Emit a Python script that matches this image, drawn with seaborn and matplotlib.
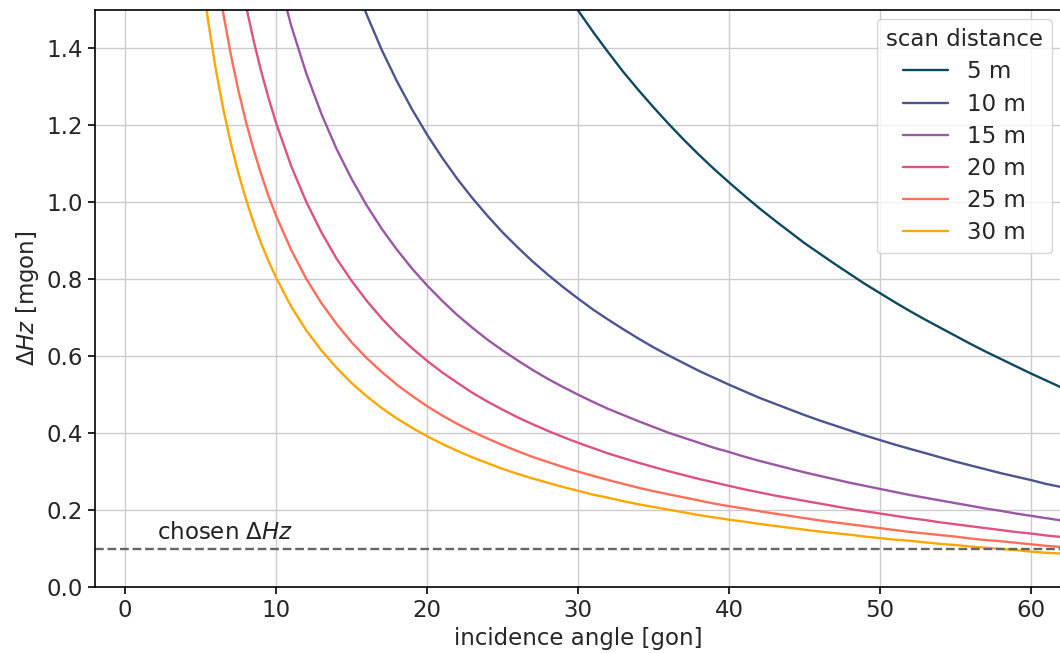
import pandas as pd
import matplotlib
matplotlib.use("Agg")
import matplotlib.pyplot as plt
import seaborn as sns

# incidence angles [gon]; each series below ends at the last angle
angles = [5, 5.5, 6, 6.5, 7, 7.5, 8, 8.5, 9, 9.5,
          10, 11, 12, 13, 14, 15, 16, 17, 18, 19, 20, 21, 22, 23, 24, 25, 26, 27,
          28, 29, 30, 31, 32, 33, 34, 35, 36, 37, 38, 39, 40, 41, 42, 43, 44, 45,
          46, 47, 48, 49, 50, 51, 52, 53, 54, 55, 56, 57, 58, 59, 60, 61, 62]

# ΔHz [mgon] per scan distance
dhz_5m = [1.766, 1.692, 1.624, 1.560, 1.499, 1.443, 1.390, 1.339, 1.292, 1.247,
          1.204, 1.163, 1.124, 1.087, 1.052, 1.018, 0.985, 0.954, 0.924, 0.894,
          0.867, 0.840, 0.814, 0.788, 0.764, 0.740, 0.717, 0.695, 0.674, 0.653,
          0.632, 0.612, 0.593, 0.574, 0.555, 0.537, 0.519]
dhz_10m = [1.709, 1.591, 1.488, 1.396, 1.315, 1.242, 1.176, 1.116, 1.061, 1.011,
           0.965, 0.922, 0.883, 0.846, 0.812, 0.780, 0.750, 0.721, 0.695, 0.670,
           0.646, 0.623, 0.602, 0.582, 0.562, 0.544, 0.526, 0.509, 0.492, 0.477,
           0.462, 0.447, 0.433, 0.420, 0.407, 0.394, 0.382, 0.370, 0.359, 0.348,
           0.337, 0.326, 0.316, 0.306, 0.296, 0.287, 0.278, 0.268, 0.260]
dhz_15m = [1.694, 1.608, 1.459, 1.335, 1.230, 1.139, 1.061, 0.992, 0.931, 0.877,
           0.828, 0.784, 0.744, 0.707, 0.674, 0.643, 0.615, 0.589, 0.564, 0.541,
           0.520, 0.500, 0.481, 0.463, 0.447, 0.431, 0.416, 0.401, 0.388, 0.375,
           0.362, 0.351, 0.339, 0.328, 0.318, 0.308, 0.298, 0.289, 0.280, 0.271,
           0.263, 0.255, 0.247, 0.239, 0.232, 0.225, 0.218, 0.211, 0.204, 0.198,
           0.191, 0.185, 0.179, 0.173]
dhz_20m = [1.614, 1.512, 1.422, 1.342, 1.271, 1.206, 1.094, 1.001, 0.922, 0.854,
           0.796, 0.744, 0.698, 0.657, 0.621, 0.588, 0.558, 0.531, 0.505, 0.482,
           0.461, 0.441, 0.423, 0.406, 0.390, 0.375, 0.361, 0.347, 0.335, 0.323,
           0.312, 0.301, 0.291, 0.281, 0.272, 0.263, 0.254, 0.246, 0.238, 0.231,
           0.224, 0.217, 0.210, 0.203, 0.197, 0.191, 0.185, 0.179, 0.174, 0.168,
           0.163, 0.158, 0.153, 0.148, 0.143, 0.139, 0.134, 0.130]
dhz_25m = [1.616, 1.491, 1.384, 1.291, 1.210, 1.138, 1.074, 1.016, 0.965, 0.876,
           0.801, 0.738, 0.684, 0.636, 0.595, 0.559, 0.526, 0.497, 0.470, 0.446,
           0.424, 0.404, 0.386, 0.369, 0.353, 0.338, 0.325, 0.312, 0.300, 0.289,
           0.278, 0.268, 0.258, 0.249, 0.241, 0.233, 0.225, 0.217, 0.210, 0.204,
           0.197, 0.191, 0.185, 0.179, 0.173, 0.168, 0.163, 0.158, 0.153, 0.148,
           0.143, 0.139, 0.135, 0.131, 0.126, 0.122, 0.119, 0.115, 0.111, 0.107,
           0.104]
dhz_30m = [1.617, 1.470, 1.347, 1.242, 1.153, 1.076, 1.008, 0.948, 0.894, 0.847,
           0.804, 0.729, 0.667, 0.615, 0.570, 0.530, 0.496, 0.465, 0.438, 0.414,
           0.392, 0.372, 0.354, 0.337, 0.322, 0.307, 0.294, 0.282, 0.271, 0.260,
           0.250, 0.240, 0.232, 0.223, 0.215, 0.208, 0.201, 0.194, 0.187, 0.181,
           0.175, 0.170, 0.164, 0.159, 0.154, 0.149, 0.144, 0.140, 0.136, 0.131,
           0.127, 0.123, 0.120, 0.116, 0.112, 0.109, 0.105, 0.102, 0.099, 0.096,
           0.092, 0.089, 0.087]

distances = ["5 m", "10 m", "15 m", "20 m", "25 m", "30 m"]
series = [dhz_5m, dhz_10m, dhz_15m, dhz_20m, dhz_25m, dhz_30m]
colors = ["#0d4a5f", "#4c5590", "#9a57a3", "#dd5185", "#ff6e5a", "#ffa600"]
chosen_dhz = 0.1

rows = []
for d, vals in zip(distances, series):
    for a, v in zip(angles[-len(vals):], vals):
        rows.append({"angle": a, "dhz": v, "scan distance": d})
df = pd.DataFrame(rows)

FS = 16.5
sns.set_style("ticks")
plt.rcParams["font.family"] = ["DejaVu Sans"]
plt.rcParams["font.size"] = FS

fig = plt.figure(figsize=(10.6, 6.53), dpi=100)
ax = fig.add_axes([0.0896, 0.1011, 0.9114, 0.8836])

sns.lineplot(data=df, x="angle", y="dhz", hue="scan distance",
             hue_order=distances, palette=colors, linewidth=1.7, ax=ax)

ax.axhline(chosen_dhz, color="#666666", linestyle="--", linewidth=1.7,
           dashes=(3.7, 1.6))
ax.text(2.1, 0.125, r"chosen $\Delta Hz$", fontsize=FS, color="#222222")

ax.set_xlim(-2, 62)
ax.set_ylim(0, 1.5)
ax.set_xticks([0, 10, 20, 30, 40, 50, 60])
ax.set_yticks([0.0, 0.2, 0.4, 0.6, 0.8, 1.0, 1.2, 1.4])
ax.grid(True, color="#cccccc", linewidth=1.0)
ax.set_axisbelow(True)
ax.tick_params(labelsize=FS, length=5, width=1.2, color="black")
for s in ax.spines.values():
    s.set_color("black")
    s.set_linewidth(1.2)
ax.set_xlabel("incidence angle [gon]", fontsize=FS)
ax.set_ylabel(r"$\Delta Hz$ [mgon]", fontsize=FS)

leg = ax.legend(title="scan distance", loc="upper right", fontsize=FS,
                title_fontsize=FS, frameon=True, borderaxespad=0.4,
                labelspacing=0.4)
leg.get_frame().set_edgecolor("#cccccc")

fig.savefig("out.png", dpi=100)
